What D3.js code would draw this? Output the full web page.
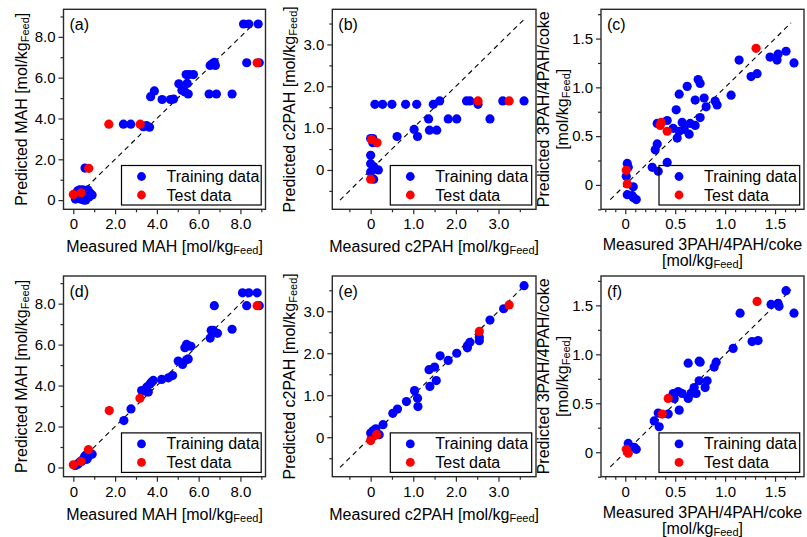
<!DOCTYPE html>
<html><head><meta charset="utf-8">
<script src="https://cdn.jsdelivr.net/npm/d3@7"></script>
<style>
body{margin:0;background:#fff;}
text{font-family:"Liberation Sans",Arial,Helvetica,sans-serif;fill:#000;}
</style>
</head><body>
<svg id="c" width="807" height="537"></svg>
<script>
// ---------------- DATA ----------------
const ticksMAH = [0, 2, 4, 6, 8];
const ticksC2 = [0, 1, 2, 3];
const ticks3P = [0, 0.5, 1, 1.5];
const legendLabels = ["Training data", "Test data"];
const panelLabels = ["(a)", "(b)", "(c)", "(d)", "(e)", "(f)"];

// (a) MAH, model 1
const trainA = [[8.15,8.63],[8.4,8.63],[8.85,8.63],[8.3,6.73],[8.9,6.73],
  [6.55,6.6],[6.65,6.68],[6.75,6.75],[6.8,6.6],
  [5.4,6.15],[5.55,6.15],[5.75,6.15],[5.05,5.7],[5.45,5.72],
  [5.2,5.38],[5.35,5.3],[5.5,5.2],[6.5,5.2],[6.85,5.2],[7.6,5.2],
  [3.7,5.07],[3.88,5.35],[4.25,4.93],[4.65,4.93],[4.8,4.95],
  [2.4,3.72],[2.75,3.72],[3.35,3.6],[3.5,3.65],[3.65,3.57],
  [0.56,1.57],
  [0.1,0.05],[0.15,0.2],[0.2,0.45],[0.25,0.1],[0.3,0.5],[0.35,0.05],[0.4,0.3],
  [0.45,0.5],[0.5,0.15],[0.55,0.4],[0.6,0.0],[0.65,0.3],[0.7,0.5],[0.75,0.15],
  [0.8,0.35],[0.9,0.25],[0.5,0.0],[0.2,0.25]];
const testA = [[0.0,0.28],[0.37,0.36],[0.74,1.56],[1.7,3.72],[3.2,3.72],[8.8,6.73]];

// (b) c2PAH, model 1
const trainB = [[0.1,1.57],[0.28,1.57],[0.5,1.57],[0.82,1.57],[1.08,1.57],[1.47,1.57],[1.62,1.65],
  [2.25,1.65],[2.33,1.65],[2.52,1.57],[3.1,1.65],[3.6,1.65],
  [1.36,1.22],[1.82,1.22],[2.02,1.22],[2.8,1.22],
  [1.02,0.97],[1.38,0.95],[1.55,0.95],[0.62,0.8],[1.1,0.8],
  [0.0,0.75],[0.05,0.75],[0.05,0.65],[0.0,0.35],[0.0,0.15],[0.07,0.08],[0.18,0.0],[0.0,-0.05],[0.07,-0.22]];
const testB = [[0.02,0.73],[0.15,0.65],[0.0,-0.22],[2.52,1.65],[3.25,1.65]];

// (c) 3PAH/4PAH/coke, model 1
const trainC = [[1.61,1.37],[1.53,1.34],[1.45,1.31],[1.52,1.28],[1.69,1.25],[1.14,1.28],
  [1.32,1.14],[1.26,1.11],[1.06,0.92],[0.73,1.08],[0.75,1.04],[0.62,1.01],[0.54,0.93],
  [0.7,0.87],[0.79,0.89],[0.81,0.8],[0.9,0.86],[0.92,0.82],[0.51,0.77],[0.75,0.69],
  [0.42,0.66],[0.32,0.63],[0.48,0.58],[0.54,0.55],[0.59,0.57],[0.65,0.63],[0.7,0.61],
  [0.64,0.52],[0.52,0.48],[0.57,0.64],[0.32,0.42],[0.3,0.36],[0.27,0.18],[0.33,0.14],
  [0.42,0.23],[0.02,0.22],[0.03,0.18],[0.01,0.09],[0.08,-0.02],[0.02,-0.1],[0.08,-0.13],
  [0.11,-0.15],[0.07,-0.11]];
const testC = [[1.31,1.4],[0.36,0.64],[0.35,0.61],[0.42,0.55],[0.01,0.15],[0.02,0.01]];

// (d) MAH, model 2
const trainD = [[8.1,8.53],[8.4,8.53],[8.8,8.53],[6.75,7.9],[8.3,7.9],[8.9,7.9],
  [7.6,6.75],[6.6,6.7],[6.7,6.7],[6.9,6.55],[6.55,6.32],
  [5.42,6.01],[5.34,5.85],[5.63,5.92],[5.5,5.95],
  [5.02,5.2],[5.42,5.26],[5.23,5.03],[5.5,5.3],
  [4.75,4.49],[4.55,4.38],[4.23,4.3],[3.83,4.25],[3.75,4.17],[3.67,4.08],[3.51,3.92],
  [3.27,3.76],[3.43,3.73],[3.59,3.68],[2.76,2.86],[2.42,2.29],
  [0.1,0.1],[0.2,0.15],[0.3,0.25],[0.35,0.3],[0.45,0.35],[0.5,0.45],[0.55,0.55],
  [0.6,0.6],[0.65,0.4],[0.7,0.5],[0.8,0.7],[0.9,0.65],[0.4,0.3],[0.25,0.2]];
const testD = [[0.0,0.13],[0.37,0.29],[0.72,0.87],[1.72,2.78],[3.19,3.38],[8.8,7.9]];

// (e) c2PAH, model 2
const trainE = [[3.6,3.61],[3.12,3.06],[2.8,2.79],[2.55,2.38],[2.55,2.3],[2.33,2.26],
  [2.27,2.18],[2.27,2.13],[2.02,2.0],[1.82,1.83],[1.63,1.94],[1.5,1.67],[1.37,1.61],
  [1.54,1.35],[1.39,1.21],[1.03,1.11],[1.1,0.93],[1.11,0.73],[0.84,0.85],[0.63,0.67],
  [0.52,0.57],[0.29,0.3],[0.12,0.2],[0.2,0.06],[0.0,0.1],[0.05,0.15],[0.1,0.05],[0.03,0.0]];
const testE = [[3.25,3.15],[2.55,2.52],[0.0,-0.08],[0.14,0.06]];

// (f) 3PAH/4PAH/coke, model 2
const trainF = [[1.61,1.65],[1.46,1.51],[1.53,1.52],[1.54,1.49],[1.15,1.42],[1.69,1.42],
  [1.27,1.13],[1.33,1.14],[1.08,1.06],[0.63,0.91],[0.74,0.93],[0.75,0.92],[0.91,0.92],
  [0.89,0.87],[0.74,0.73],[0.82,0.73],[0.8,0.66],[0.69,0.66],[0.71,0.6],[0.63,0.55],
  [0.66,0.6],[0.53,0.62],[0.57,0.6],[0.48,0.6],[0.49,0.55],[0.54,0.43],[0.33,0.4],
  [0.43,0.39],[0.29,0.32],[0.34,0.26],[0.03,0.09],[0.09,0.05],[0.11,0.03],[0.02,0.03]];
const testF = [[1.32,1.54],[0.43,0.55],[0.37,0.39],[0.01,0.03],[0.03,-0.01]];

// ---------------- LAYOUT ----------------
const svg = d3.select("#c");
const cols = [{l:63.5, r:265.5}, {l:332.3, r:536}, {l:601, r:804}];
const rows = [{t:9.3, b:209.3}, {t:276, b:476.7}];
const BLUE = "#0000ff", RED = "#ff0000", INK = "#2a2a2a";

const types = {
  MAH: {xd:[-0.47, 9.2], yd:[-0.45, 9.35], ticks:ticksMAH, xMinor:[1,3,5,7,9], yMinor:[1,3,5,7,9],
        line:[0, 8.45], xTitle:[["Measured MAH [mol/kg","Feed","]"]], yTitle:[["Predicted MAH [mol/kg","Feed","]"]]},
  C2:  {xd:[-0.9, 3.88], yd:[-0.94, 3.84], ticks:ticksC2, xMinor:[-0.5,0.5,1.5,2.5,3.5], yMinor:[-0.5,0.5,1.5,2.5,3.5],
        line:[-0.72, 3.6], xTitle:[["Measured c2PAH [mol/kg","Feed","]"]], yTitle:[["Predicted c2PAH [mol/kg","Feed","]"]]},
  P3:  {xd:[-0.243, 1.79], yd:[-0.25, 1.8], ticks:ticks3P,
        xMinor:d3.range(-2,18).map(d=>d/10).filter(d=>Math.abs(d*2-Math.round(d*2))>1e-6),
        yMinor:[-0.25,0.25,0.75,1.25,1.75],
        line:[-0.15, 1.66], xTitle:[["Measured 3PAH/4PAH/coke"],["[mol/kg","Feed","]"]],
        yTitle:[["Predicted 3PAH/4PAH/coke"],["[mol/kg","Feed","]"]]}
};

const panels = [
  {col:0,row:0,type:"MAH",train:trainA,test:testA,label:panelLabels[0]},
  {col:1,row:0,type:"C2", train:trainB,test:testB,label:panelLabels[1]},
  {col:2,row:0,type:"P3", train:trainC,test:testC,label:panelLabels[2]},
  {col:0,row:1,type:"MAH",train:trainD,test:testD,label:panelLabels[3]},
  {col:1,row:1,type:"C2", train:trainE,test:testE,label:panelLabels[4]},
  {col:2,row:1,type:"P3", train:trainF,test:testF,label:panelLabels[5]}
];

const fmt = d => d === 0 ? "0" : d3.format(".1f")(d);

function addTitle(sel, parts) {
  sel.append("tspan").text(parts[0]);
  if (parts.length > 1) {
    sel.append("tspan").attr("font-size", 11).attr("dy", 4).text(parts[1]);
    sel.append("tspan").attr("dy", -4).text(parts[2]);
  }
}

function styleAxis(a) {
  a.select(".domain").remove();
  a.selectAll(".tick line").attr("stroke", INK).attr("stroke-width", 1.2);
  a.selectAll(".tick text").attr("font-size", 15).attr("fill", "#000")
    .attr("font-family", '"Liberation Sans",Arial,sans-serif');
}

panels.forEach(p => {
  const C = cols[p.col], R = rows[p.row], T = types[p.type];
  const x = d3.scaleLinear().domain(T.xd).range([C.l, C.r]);
  const y = d3.scaleLinear().domain(T.yd).range([R.b, R.t]);
  const g = svg.append("g");

  // minor ticks
  g.append("g").attr("transform", `translate(0,${R.b})`)
    .call(d3.axisBottom(x).tickValues(T.xMinor.filter(v=>v>=T.xd[0]&&v<=T.xd[1])).tickSize(3).tickFormat(""))
    .call(styleAxis);
  g.append("g").attr("transform", `translate(${C.l},0)`)
    .call(d3.axisLeft(y).tickValues(T.yMinor.filter(v=>v>=T.yd[0]&&v<=T.yd[1])).tickSize(3).tickFormat(""))
    .call(styleAxis);
  // major ticks
  g.append("g").attr("transform", `translate(0,${R.b})`)
    .call(d3.axisBottom(x).tickValues(T.ticks).tickSize(5).tickPadding(4.5).tickFormat(fmt))
    .call(styleAxis);
  g.append("g").attr("transform", `translate(${C.l},0)`)
    .call(d3.axisLeft(y).tickValues(T.ticks).tickSize(5).tickPadding(3).tickFormat(fmt))
    .call(styleAxis);

  // frame
  g.append("rect").attr("x", C.l).attr("y", R.t).attr("width", C.r - C.l).attr("height", R.b - R.t)
    .attr("fill", "none").attr("stroke", INK).attr("stroke-width", 1.4);

  // 1:1 dashed line
  g.append("line").attr("x1", x(T.line[0])).attr("y1", y(T.line[0]))
    .attr("x2", x(T.line[1])).attr("y2", y(T.line[1]))
    .attr("stroke", "#000").attr("stroke-width", 1.1).attr("stroke-dasharray", "5,4");

  // points
  g.append("g").selectAll("circle").data(p.train).join("circle")
    .attr("cx", d => x(d[0])).attr("cy", d => y(d[1])).attr("r", 4.6).attr("fill", BLUE);
  g.append("g").selectAll("circle").data(p.test).join("circle")
    .attr("cx", d => x(d[0])).attr("cy", d => y(d[1])).attr("r", 4.6).attr("fill", RED);

  // legend
  const lh = 39.5, lx = C.l + 58, lw = C.r - 4.3 - lx, ly = R.b - 4.3 - lh;
  const lg = g.append("g");
  lg.append("rect").attr("x", lx).attr("y", ly).attr("width", lw).attr("height", lh)
    .attr("fill", "none").attr("stroke", "#000").attr("stroke-width", 1.2);
  [BLUE, RED].forEach((c, i) => {
    const cy = ly + 11 + i * 18.5;
    lg.append("circle").attr("cx", lx + 20).attr("cy", cy).attr("r", 4.4).attr("fill", c);
    lg.append("text").attr("x", lx + 45).attr("y", cy).attr("dominant-baseline", "central")
      .attr("font-size", 16).text(legendLabels[i]);
  });

  // panel label
  g.append("text").attr("x", C.l + 6).attr("y", R.t + 21).attr("font-size", 16).text(p.label);

  // x title
  const xc = (C.l + C.r) / 2;
  if (T.xTitle.length === 1) {
    const t = g.append("text").attr("x", xc).attr("y", R.b + 37).attr("text-anchor", "middle")
      .attr("dominant-baseline", "central").attr("font-size", 16);
    addTitle(t, T.xTitle[0]);
  } else {
    T.xTitle.forEach((parts, i) => {
      const t = g.append("text").attr("x", xc).attr("y", R.b + 35 + i * 16).attr("text-anchor", "middle")
        .attr("dominant-baseline", "central").attr("font-size", 16);
      addTitle(t, parts);
    });
  }
  // y title
  const yc = (R.t + R.b) / 2;
  if (T.yTitle.length === 1) {
    const t = g.append("text").attr("transform", `translate(${C.l - 43},${yc}) rotate(-90)`)
      .attr("text-anchor", "middle").attr("dominant-baseline", "central").attr("font-size", 16);
    addTitle(t, T.yTitle[0]);
  } else {
    T.yTitle.forEach((parts, i) => {
      const t = g.append("text").attr("transform", `translate(${C.l - 58 + i * 19},${yc}) rotate(-90)`)
        .attr("text-anchor", "middle").attr("dominant-baseline", "central").attr("font-size", 16);
      addTitle(t, parts);
    });
  }
});
</script>
</body></html>
